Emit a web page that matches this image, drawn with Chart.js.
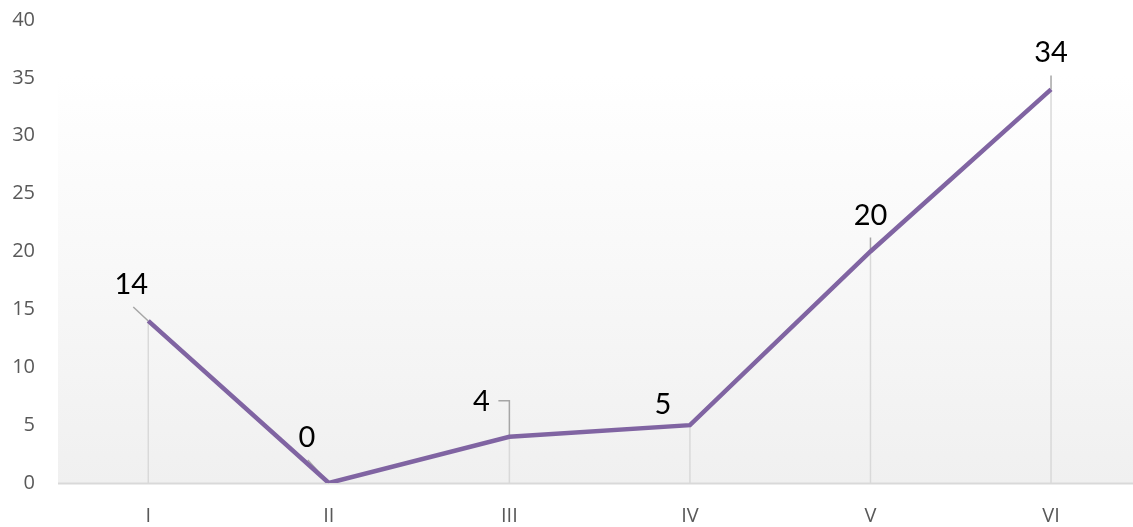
<!DOCTYPE html>
<html lang="en">
<head>
    <meta charset="UTF-8">
    <title>Grafico</title>
    <script src="https://cdn.jsdelivr.net/npm/chart.js"></script>
    <style>
        html, body { margin: 0; padding: 0; background: #ffffff; }
        #box { width: 1133px; height: 527px; }
    </style>
</head>
<body>
    <div id="box">
        <canvas id="grafico"></canvas>
    </div>
<script>
    // dados do grafico
    var categorias = ['I', 'II', 'III', 'IV', 'V', 'VI'];
    var valores = [14, 0, 4, 5, 20, 34];
    var ticksY = [0, 5, 10, 15, 20, 25, 30, 35, 40];

    // onde fica cada rotulo em relacao ao ponto (px) e a linha guia
    var rotuloDesloc = [[-17, -36], [-22, -45], [-28, -35], [-27, -20], [0, -36], [0, -37]];
    var guias = [
        [[-15, -14], [0, 0]],
        [[-21, -23], [0, 0]],
        [[-11, -36], [0, -36], [0, 0]],
        null,
        [[0, -14], [0, 0]],
        [[0, -14], [0, 0]]
    ];

    var pontos = valores.map(function (v, i) { return { x: i, y: v }; });

    // fundo em degrade, linhas de queda e rotulos
    var fundoPlugin = {
        id: 'fundo',
        beforeDatasetsDraw: function (chart) {
            var ctx = chart.ctx, a = chart.chartArea;
            var g = ctx.createLinearGradient(0, a.top, 0, a.bottom);
            g.addColorStop(0, '#ffffff');
            g.addColorStop(0.12, '#ffffff');
            g.addColorStop(1, '#f0f0f0');
            ctx.save();
            ctx.fillStyle = g;
            ctx.fillRect(a.left, a.top, a.right - a.left, a.bottom - a.top);
            var meta = chart.getDatasetMeta(0);
            ctx.strokeStyle = '#d9d9d9';
            ctx.lineWidth = 1.5;
            meta.data.forEach(function (p) {
                ctx.beginPath();
                ctx.moveTo(p.x, p.y);
                ctx.lineTo(p.x, a.bottom);
                ctx.stroke();
            });
            // linha do eixo x
            ctx.lineWidth = 2;
            ctx.beginPath();
            ctx.moveTo(a.left, a.bottom + 0.5);
            ctx.lineTo(a.right, a.bottom + 0.5);
            ctx.stroke();
            // linhas guia dos rotulos
            ctx.strokeStyle = '#a6a6a6';
            ctx.lineWidth = 1.5;
            meta.data.forEach(function (p, i) {
                var gl = guias[i];
                if (!gl) return;
                ctx.beginPath();
                ctx.moveTo(p.x + gl[0][0], p.y + gl[0][1]);
                for (var k = 1; k < gl.length; k++) {
                    ctx.lineTo(p.x + gl[k][0], p.y + gl[k][1]);
                }
                ctx.stroke();
            });
            ctx.restore();
        },
        afterDatasetsDraw: function (chart) {
            var ctx = chart.ctx;
            var meta = chart.getDatasetMeta(0);
            ctx.save();
            ctx.fillStyle = '#000000';
            ctx.font = '29px Lato';
            ctx.textAlign = 'center';
            ctx.textBaseline = 'middle';
            meta.data.forEach(function (p, i) {
                ctx.fillText(String(valores[i]), p.x + rotuloDesloc[i][0], p.y + rotuloDesloc[i][1]);
            });
            ctx.restore();
        }
    };

    var ctx = document.getElementById('grafico').getContext('2d');
    var grafico = new Chart(ctx, {
        type: 'line',
        data: {
            datasets: [{
                data: pontos,
                borderColor: '#8064a2',
                borderWidth: 4.5,
                pointRadius: 0,
                fill: false,
                tension: 0
            }]
        },
        options: {
            responsive: true,
            maintainAspectRatio: false,
            animation: false,
            layout: { padding: { top: 20, right: 0, bottom: 0, left: 0 } },
            plugins: {
                legend: { display: false },
                tooltip: { enabled: false }
            },
            scales: {
                x: {
                    type: 'linear',
                    min: -0.5,
                    max: 5.454,
                    afterBuildTicks: function (axis) {
                        axis.ticks = categorias.map(function (c, i) { return { value: i }; });
                    },
                    afterFit: function (axis) {
                        axis.height = 44;
                        axis.paddingLeft = 0;
                        axis.paddingRight = 0;
                    },
                    grid: { display: false, drawTicks: false },
                    border: { display: false },
                    ticks: {
                        padding: 21,
                        color: '#595959',
                        font: { family: 'Open Sans', size: 20 },
                        maxRotation: 0,
                        autoSkip: false,
                        callback: function (v) { return categorias[v]; }
                    }
                },
                y: {
                    min: 0,
                    max: 40,
                    afterBuildTicks: function (axis) {
                        axis.ticks = ticksY.map(function (t) { return { value: t }; });
                    },
                    afterFit: function (axis) {
                        axis.width = 58;
                        axis.paddingTop = 0;
                        axis.paddingBottom = 0;
                    },
                    grid: { display: false, drawTicks: false },
                    border: { display: false },
                    ticks: {
                        padding: 23,
                        color: '#595959',
                        font: { family: 'Open Sans', size: 20 }
                    }
                }
            }
        },
        plugins: [fundoPlugin]
    });
</script>
</body>
</html>
